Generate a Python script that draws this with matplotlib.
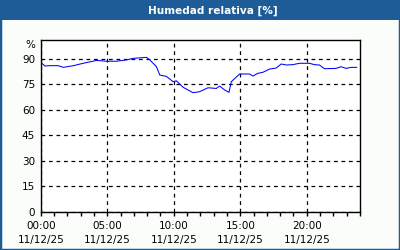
import matplotlib
matplotlib.use("Agg")
import matplotlib.pyplot as plt
from matplotlib.patches import Rectangle
from matplotlib.ticker import MultipleLocator

# hours since 00:00 and relative humidity (%)
hours = [0.0, 0.32, 0.7, 1.32, 1.7, 2.45, 3.2, 4.2, 4.95, 5.7, 6.45, 6.95, 7.95,
         8.2, 8.7, 8.95, 9.45, 9.95, 10.2, 10.7, 11.45, 11.95, 12.57, 13.2, 13.45,
         13.83, 14.15, 14.33, 14.95, 15.7, 15.95, 16.32, 16.7, 17.2, 17.7, 18.08,
         18.45, 18.95, 19.45, 20.2, 20.57, 20.95, 21.33, 22.2, 22.58, 22.95, 23.32, 23.75]
humidity = [87.9, 85.7, 85.9, 85.9, 84.9, 85.9, 87.3, 89.0, 88.5, 88.5, 89.3, 90.2, 90.8,
            89.3, 85.3, 80.4, 79.6, 76.5, 77.0, 73.2, 70.0, 70.6, 72.9, 72.5, 73.9,
            71.6, 70.2, 76.5, 81.0, 81.0, 79.8, 81.4, 82.0, 83.9, 84.5, 86.9,
            86.3, 86.5, 87.3, 87.3, 86.5, 86.3, 84.1, 84.3, 85.3, 84.3, 84.9, 84.9]

xticks = [0, 5, 10, 15, 20]
xlabels = ["00:00\n11/12/25", "05:00\n11/12/25", "10:00\n11/12/25",
           "15:00\n11/12/25", "20:00\n11/12/25"]
yticks = [0, 15, 30, 45, 60, 75, 90]
title = "Humedad relativa [%]"

blue = "#1d5c96"
plt.rcParams['font.family'] = ['DejaVu Sans']

fig = plt.figure(figsize=(4, 2.5), dpi=100, facecolor="#fbfdfb")
ax = fig.add_axes([40.7 / 400, 1 - 211.7 / 250, (360 - 40.7) / 400, (211.7 - 40) / 250])
ax.set_facecolor("white")

ax.plot(hours, humidity, color="#0000ff", lw=0.75)

ax.set_xlim(0, 24)
ax.set_ylim(0, 101)
ax.set_xticks(xticks)
ax.set_xticklabels(xlabels, fontsize=7.5, linespacing=1.45)
ax.xaxis.set_minor_locator(MultipleLocator(1))
ax.set_yticks(yticks)
ax.set_yticklabels([str(v) for v in yticks], fontsize=7.5)
ax.tick_params(axis="x", which="both", direction="out", length=3, width=1, pad=4)
ax.tick_params(axis="y", length=0, pad=4)
ax.grid(True, color="black", lw=0.9, ls=(0, (3, 3)))
for s in ax.spines.values():
    s.set_linewidth(1)
    s.set_color("black")

fig.text(30 / 400, 1 - 45 / 250, "%", fontsize=7.5, ha="center", va="center")

# title bar and frame
fig.patches.append(Rectangle((0, 1 - 20 / 250), 1, 20 / 250, transform=fig.transFigure,
                             facecolor=blue, edgecolor="none", zorder=0))
fig.patches.append(Rectangle((0, 0), 1, 1, transform=fig.transFigure,
                             facecolor="none", edgecolor=blue, lw=2.5, zorder=1))
fig.text(213 / 400, 1 - 10.5 / 250, title, color="white", fontsize=7.6, fontweight="bold",
         ha="center", va="center")

fig.savefig("out.png", dpi=100, facecolor=fig.get_facecolor())
